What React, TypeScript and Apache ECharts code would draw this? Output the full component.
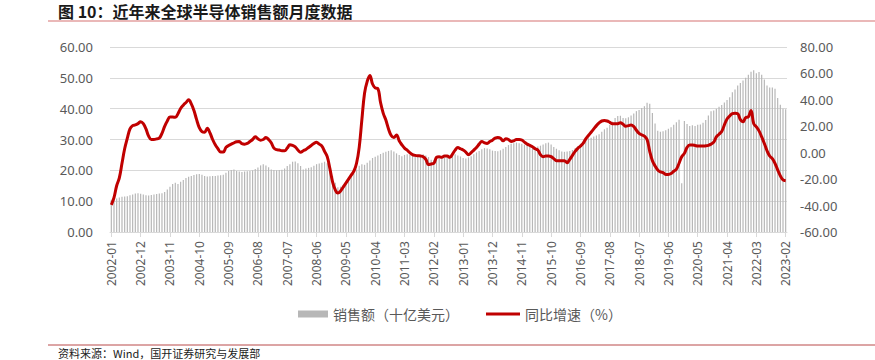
import React, { useEffect, useRef } from "react";
import * as echarts from "echarts";

const startYear = 2002;
const monthCount = 254; // 2002-01 .. 2023-02

// Global semiconductor monthly sales (billion USD)
const sales: number[] = [
  // 2002
  10.5, 10.6, 10.9, 11.2, 11.4, 11.5, 11.6, 11.9, 12.2, 12.5, 12.6, 12.4,
  // 2003
  12.2, 11.9, 11.8, 12.0, 12.2, 12.3, 12.5, 12.6, 13.0, 13.8, 14.7, 15.6,
  // 2004
  16.0, 15.6, 16.3, 16.9, 17.5, 17.9, 18.2, 18.5, 18.7, 18.8, 18.6, 18.2,
  // 2005
  18.0, 18.1, 18.2, 18.2, 18.3, 18.4, 18.6, 19.2, 19.8, 20.1, 20.3, 19.8,
  // 2006
  19.6, 19.5, 19.6, 19.7, 19.8, 20.0, 20.4, 20.9, 21.6, 22.0, 21.6, 21.0,
  // 2007
  20.3, 20.1, 20.0, 20.1, 20.2, 20.6, 21.4, 22.0, 22.8, 22.9, 22.3, 21.4,
  // 2008
  20.3, 20.6, 20.8, 21.0, 21.5, 22.0, 22.2, 22.5, 22.8, 22.3, 20.5, 18.2,
  // 2009
  16.0, 14.5, 14.7, 15.3, 16.2, 17.1, 18.0, 19.0, 20.3, 21.5, 22.0, 21.8,
  // 2010
  22.5, 23.2, 24.0, 24.4, 24.8, 25.3, 25.7, 26.0, 26.3, 26.5, 26.1, 25.5,
  // 2011
  25.0, 24.6, 25.0, 25.2, 25.0, 24.8, 24.6, 24.8, 25.0, 25.2, 24.8, 24.3,
  // 2012
  23.4, 23.3, 23.6, 23.8, 24.0, 24.2, 24.3, 24.4, 25.0, 25.2, 24.8, 24.5,
  // 2013
  24.0, 23.8, 24.2, 24.6, 25.2, 25.8, 26.3, 26.8, 27.2, 27.1, 26.8, 26.4,
  // 2014
  26.3, 26.2, 26.5, 27.0, 27.6, 28.2, 28.6, 28.8, 29.0, 28.8, 28.6, 28.3,
  // 2015
  28.0, 27.7, 27.6, 27.6, 27.7, 28.0, 28.4, 28.8, 29.0, 28.4, 27.6, 27.0,
  // 2016
  26.5, 26.1, 26.0, 26.1, 26.3, 26.6, 27.2, 27.9, 28.6, 29.3, 29.9, 30.4,
  // 2017
  30.6, 31.0, 31.3, 31.7, 32.5, 33.3, 33.8, 34.7, 35.8, 37.0, 37.6, 37.7,
  // 2018
  37.0, 36.9, 37.2, 37.8, 38.4, 39.2, 39.6, 40.2, 40.8, 41.9, 41.6, 38.6,
  // 2019
  35.2, 32.8, 32.5, 32.7, 33.0, 33.5, 34.0, 34.8, 35.6, 36.4, 15.8, 36.0,
  // 2020
  35.0, 34.4, 34.6, 34.4, 34.8, 34.9, 35.4, 36.3, 37.8, 39.2, 39.4, 40.0,
  // 2021
  40.6, 41.2, 42.0, 42.8, 43.7, 45.3, 46.2, 47.5, 48.3, 49.1, 50.0, 51.0,
  // 2022
  52.0, 52.5, 51.5, 51.9, 51.0, 49.5, 47.5, 46.9, 46.9, 46.5, 43.5, 41.3,
  // 2023
  40.0, 39.8,
];

// Year-on-year growth (%)
const yoy: number[] = [
  // 2002
  -39.5, -34, -25, -19, -8, 3, 11, 18, 20.5, 21, 22, 23.5,
  // 2003
  22, 18, 12.5, 10, 10, 10.5, 11, 14.7, 20, 24, 27, 27,
  // 2004
  26.8, 29.5, 33.5, 36, 38, 40, 37, 32, 25, 19, 16, 15.5,
  // 2005
  18.5, 15, 10, 6, 3, 0.5, 0.5, 4, 5.5, 6.5, 7.5, 8.3,
  // 2006
  8.5, 6.8, 6.5, 7, 8.5, 10, 12, 10.5, 9.5, 10, 11.5, 10,
  // 2007
  7.5, 3.5, 2.3, 2, 1.5, 1.5, 3.5, 6, 5.5, 4.5, 2, 0.3,
  // 2008
  1.5, 2.5, 4, 5.5, 7, 8, 6.5, 5, 1, -3, -12, -22,
  // 2009
  -28, -30.5, -29, -26, -23, -20, -17, -14, -8, 4, 25, 45,
  // 2010
  54, 58.5, 52, 49, 48.5, 38, 30, 24.7, 18, 13, 11.5, 13.5,
  // 2011
  9, 6, 3.5, 2, 0, -1.5, -2, -2.3, -2.5, -3, -5, -9,
  // 2012
  -8.5, -8, -3.5, -3, -3.5, -2.5, -2.5, -3.5, -1, 2, 4, 3,
  // 2013
  2, 0.5, -1.5, 0, 2, 4, 6.5, 8.5, 7.5, 7, 8.5, 9.5,
  // 2014
  11, 11.6, 11, 9, 10.5, 10, 8.5, 9, 10, 10, 9.6, 8,
  // 2015
  6.5, 5.5, 4.5, 3, 2, -1.5, -3, -2.5, -2.5, -3, -4.5, -6,
  // 2016
  -6, -6, -6, -7.5, -5, -2, 1, 3.3, 5, 7, 10.5, 13,
  // 2017
  15.5, 18, 20.5, 22.5, 24, 24.3, 24, 23, 22, 22, 22, 22.7,
  // 2018
  21.5, 20, 20.5, 21, 19.8, 17, 14.7, 13.5, 12.6, 10, 1, -6,
  // 2019
  -10, -13, -14.5, -15, -16.5, -16.5, -15.8, -14, -12.5, -8, -3, -0.5,
  // 2020
  4, 5.8, 5.8, 5.5, 5, 5, 5, 5.2, 5.6, 6.5, 8, 12,
  // 2021
  14, 16, 21, 25.5, 27.8, 29.5, 29.8, 29.5, 25, 23.5, 26.5, 27.2,
  // 2022
  32, 22, 19.5, 16.5, 12, 7, 1.5, -2.5, -4.5, -8, -13, -17.5,
  // 2023
  -20.5, -21.2,
];

const categories: string[] = [];
for (let k = 0; k < monthCount; k++) {
  const y = startYear + Math.floor(k / 12);
  const m = (k % 12) + 1;
  categories.push(`${y}-${m < 10 ? "0" + m : m}`);
}

const titleText = "图 10：近年来全球半导体销售额月度数据";
const sourceText = "资料来源：Wind，国开证券研究与发展部";
const salesName = "销售额（十亿美元）";
const yoyName = "同比增速（%）";

const numFont = "'Noto Sans', 'Noto Sans CJK SC', sans-serif";
const cjkFont = "'Noto Sans CJK SC', sans-serif";
const legendText = { fontSize: 14, color: "#595959", fontFamily: cjkFont };

export default function App() {
  const ref = useRef<HTMLDivElement>(null);
  useEffect(() => {
    if (!ref.current) return;
    const chart = echarts.init(ref.current, null, { renderer: "svg" });
    chart.setOption({
      animation: false,
      backgroundColor: "#ffffff",
      grid: { left: 110, right: 88, top: 47, bottom: 128, containLabel: false },
      legend: [
        {
          left: 293,
          top: 302,
          itemWidth: 30,
          itemHeight: 7,
          textStyle: legendText,
          data: [{ name: salesName, icon: "rect" }],
        },
        {
          left: 481,
          top: 302,
          itemWidth: 34,
          itemHeight: 3,
          textStyle: legendText,
          data: [{ name: yoyName, icon: "rect" }],
        },
      ],
      xAxis: {
        type: "category",
        data: categories,
        boundaryGap: true,
        axisLine: { lineStyle: { color: "#d9d9d9" } },
        axisTick: { show: true, interval: 10, alignWithLabel: true, length: 5, lineStyle: { color: "#d9d9d9" } },
        axisLabel: {
          interval: 10,
          rotate: 90,
          margin: 9,
          fontSize: 12,
          color: "#595959",
          fontFamily: numFont,
        },
        splitLine: { show: false },
      },
      yAxis: [
        {
          type: "value",
          min: 0,
          max: 60,
          interval: 10,
          axisLine: { show: false },
          axisTick: { show: false },
          axisLabel: {
            margin: 17,
            fontSize: 13,
            color: "#595959",
            fontFamily: numFont,
            formatter: (v: number) => v.toFixed(2),
          },
          splitLine: { lineStyle: { color: "#d9d9d9", width: 1 } },
        },
        {
          type: "value",
          min: -60,
          max: 80,
          interval: 20,
          axisLine: { show: false },
          axisTick: { show: false },
          axisLabel: {
            margin: 13,
            fontSize: 13,
            color: "#595959",
            fontFamily: numFont,
            formatter: (v: number) => v.toFixed(2),
          },
          splitLine: { show: false },
        },
      ],
      series: [
        {
          name: salesName,
          type: "bar",
          yAxisIndex: 0,
          data: sales,
          barWidth: 1.2,
          itemStyle: { color: "#b7b7b7" },
        },
        {
          name: yoyName,
          type: "line",
          yAxisIndex: 1,
          data: yoy,
          smooth: 0.4,
          symbol: "none",
          lineStyle: { color: "#c00000", width: 3 },
          itemStyle: { color: "#c00000" },
          z: 5,
        },
      ],
      graphic: [
        {
          type: "text",
          left: 58,
          top: 3,
          style: {
            text: titleText,
            fontSize: 16,
            fontWeight: "bold",
            fill: "#1a1a1a",
            fontFamily: cjkFont,
          },
        },
        {
          type: "line",
          shape: { x1: 48, y1: 21, x2: 875, y2: 21 },
          style: { stroke: "#e3a1a1", lineWidth: 1.5 },
        },
        {
          type: "line",
          shape: { x1: 48, y1: 345, x2: 875, y2: 345 },
          style: { stroke: "#b94a4a", lineWidth: 1 },
        },
        {
          type: "text",
          left: 58,
          top: 347,
          style: {
            text: sourceText,
            fontSize: 11,
            fill: "#1a1a1a",
            fontFamily: cjkFont,
          },
        },
      ],
    });
    return () => chart.dispose();
  }, []);
  return (
    <div
      ref={ref}
      style={{ position: "fixed", left: 0, top: 0, width: 875, height: 360, background: "#fff" }}
    />
  );
}
